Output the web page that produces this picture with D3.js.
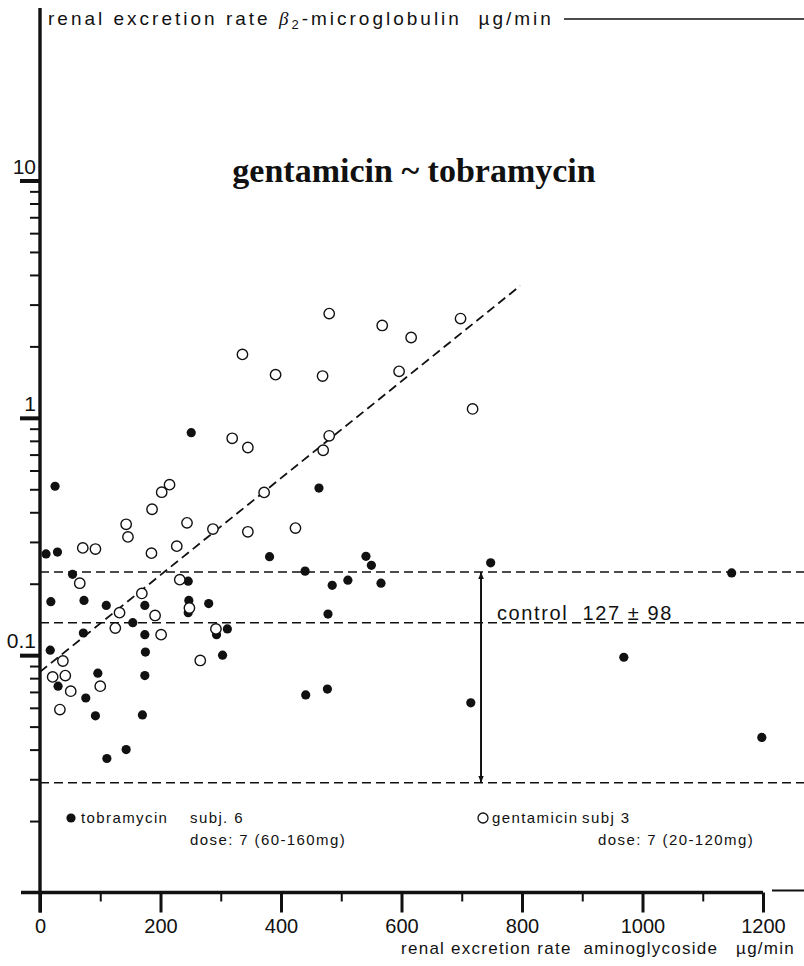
<!DOCTYPE html>
<html lang="en">
  <head>
    <meta charset="utf-8">
    <title>gentamicin ~ tobramycin</title>
    <script src="https://cdn.jsdelivr.net/npm/d3@7"></script>
    <style>
      body { margin: 0; background: #fff; }
      svg { font-family: "Liberation Sans", Arial, sans-serif; }
      svg text { fill: #111; white-space: pre; }
    </style>
  </head>
  <body>
    <script>
      var w = 804;
      var h = 966;

      // values: [aminoglycoside ug/min, b2-microglobulin ug/min]
      var tobramycin = [
        [25, 0.515], [10, 0.267], [29, 0.272], [54, 0.219], [18, 0.168], [73, 0.170],
        [110, 0.162], [174, 0.162], [154, 0.137], [72, 0.124], [174, 0.122], [17, 0.105],
        [175, 0.103], [96, 0.084], [174, 0.082], [30, 0.074], [76, 0.066], [92, 0.0555],
        [170, 0.056], [143, 0.040], [111, 0.0367], [246, 0.205], [247, 0.170], [246, 0.151],
        [280, 0.165], [293, 0.122], [311, 0.129], [303, 0.100], [381, 0.260], [440, 0.226],
        [463, 0.506], [478, 0.149], [441, 0.068], [477, 0.072], [541, 0.261], [550, 0.239],
        [748, 0.245], [1148, 0.222], [969, 0.098], [715, 0.063], [1198, 0.045], [251, 0.866],
        [485, 0.197], [511, 0.207], [566, 0.201]
      ];

      var gentamicin = [
        [215, 0.523], [202, 0.486], [186, 0.412], [143, 0.356], [146, 0.315], [244, 0.361],
        [287, 0.340], [372, 0.485], [345, 0.331], [424, 0.343], [71, 0.283], [92, 0.280],
        [185, 0.269], [227, 0.288], [66, 0.201], [232, 0.208], [169, 0.182], [248, 0.158],
        [132, 0.151], [191, 0.147], [125, 0.130], [201, 0.122], [292, 0.129], [266, 0.095],
        [38, 0.0945], [21, 0.081], [42, 0.082], [100, 0.074], [51, 0.0705], [33, 0.059],
        [480, 2.75], [568, 2.45], [698, 2.62], [616, 2.18], [336, 1.85], [391, 1.52],
        [469, 1.50], [596, 1.57], [718, 1.09], [319, 0.82], [345, 0.75], [480, 0.84],
        [470, 0.73]
      ];

      var fitLine = [[0, 0.085], [797, 3.6]];
      var controlLevels = [0.224, 0.137, 0.029];
      var controlArrowX = 732;

      var xMajor = [0, 200, 400, 600, 800, 1000, 1200];
      var xMinor = [100, 300, 500, 700, 900, 1100];
      var yLabelled = [10, 1, 0.1];
      var yLabels = ["10", "1", "0.1"];

      var xScale = d3.scaleLinear().domain([0, 1200]).range([40, 763]);
      var yScale = d3.scaleLog().domain([0.01, 10]).range([892.5, 180.5]);

      var svg = d3.select("body").append("svg")
                  .attr("width", w)
                  .attr("height", h);

      svg.append("rect").attr("width", w).attr("height", h).attr("fill", "#fff");

      // control band lines
      svg.selectAll("line.control")
         .data(controlLevels)
         .enter()
         .append("line")
         .attr("class", "control")
         .attr("x1", xScale(0))
         .attr("x2", w)
         .attr("y1", function (d) { return yScale(d); })
         .attr("y2", function (d) { return yScale(d); })
         .attr("stroke", "#111")
         .attr("stroke-width", 1.6)
         .attr("stroke-dasharray", "9,5");

      // regression line
      svg.append("path")
         .datum(fitLine)
         .attr("d", d3.line()
                      .x(function (d) { return xScale(d[0]); })
                      .y(function (d) { return yScale(d[1]); }))
         .attr("fill", "none")
         .attr("stroke", "#111")
         .attr("stroke-width", 1.8)
         .attr("stroke-dasharray", "9,5");

      // control arrow
      var defs = svg.append("defs");
      defs.append("marker")
          .attr("id", "arr")
          .attr("viewBox", "0 0 10 10")
          .attr("refX", 10).attr("refY", 5)
          .attr("markerWidth", 7).attr("markerHeight", 7)
          .attr("markerUnits", "userSpaceOnUse")
          .attr("orient", "auto-start-reverse")
          .append("path")
          .attr("d", "M0,1 L10,5 L0,9 Z")
          .attr("fill", "#111");

      svg.append("line")
         .attr("x1", xScale(controlArrowX)).attr("x2", xScale(controlArrowX))
         .attr("y1", yScale(controlLevels[0])).attr("y2", yScale(controlLevels[2]))
         .attr("stroke", "#111")
         .attr("stroke-width", 2)
         .attr("marker-start", "url(#arr)")
         .attr("marker-end", "url(#arr)");

      svg.append("text")
         .attr("x", 497)
         .attr("y", yScale(controlLevels[1]) - 3)
         .attr("font-size", 20)
         .attr("letter-spacing", 1.6)
         .text("control  127 \u00b1 98");

      // points
      svg.selectAll("circle.tobra")
         .data(tobramycin)
         .enter()
         .append("circle")
         .attr("class", "tobra")
         .attr("cx", function (d) { return xScale(d[0]); })
         .attr("cy", function (d) { return yScale(d[1]); })
         .attr("r", 4.6)
         .attr("fill", "#111");

      svg.selectAll("circle.genta")
         .data(gentamicin)
         .enter()
         .append("circle")
         .attr("class", "genta")
         .attr("cx", function (d) { return xScale(d[0]); })
         .attr("cy", function (d) { return yScale(d[1]); })
         .attr("r", 5.2)
         .attr("fill", "#fff")
         .attr("stroke", "#111")
         .attr("stroke-width", 1.4);

      // x axis
      var xAxis = d3.axisBottom(xScale)
                    .tickValues(xMajor)
                    .tickSize(20)
                    .tickSizeOuter(0)
                    .tickPadding(6)
                    .tickFormat(d3.format("d"));
      var gx = svg.append("g")
                  .attr("transform", "translate(0," + yScale(0.01) + ")")
                  .call(xAxis);
      gx.select(".domain").remove();
      gx.selectAll(".tick line").attr("stroke", "#111").attr("stroke-width", 3);
      gx.selectAll(".tick text")
        .attr("font-size", 20)
        .attr("font-family", "Liberation Sans, Arial, sans-serif")
        .attr("fill", "#111");

      var gxm = svg.append("g")
                   .attr("transform", "translate(0," + yScale(0.01) + ")")
                   .call(d3.axisBottom(xScale).tickValues(xMinor).tickSize(9).tickFormat(""));
      gxm.select(".domain").remove();
      gxm.selectAll(".tick line").attr("stroke", "#111").attr("stroke-width", 2);

      svg.append("line")
         .attr("x1", xScale(0) - 19).attr("x2", xScale(1200))
         .attr("y1", yScale(0.01)).attr("y2", yScale(0.01))
         .attr("stroke", "#111").attr("stroke-width", 3.4);
      svg.append("line")
         .attr("x1", xScale(1200) + 9).attr("x2", w)
         .attr("y1", yScale(0.01) - 2).attr("y2", yScale(0.01) - 2)
         .attr("stroke", "#111").attr("stroke-width", 2);

      svg.append("text")
         .attr("x", 795)
         .attr("y", 954)
         .attr("text-anchor", "end")
         .attr("font-size", 17)
         .attr("letter-spacing", 1.25)
         .text("renal excretion rate  aminoglycoside   \u00b5g/min");

      // y axis
      var minorY = yScale.ticks().filter(function (d) {
        var l = Math.log10(d);
        return Math.abs(l - Math.round(l)) > 1e-6;
      });
      var gym = svg.append("g")
                   .attr("transform", "translate(" + xScale(0) + ",0)")
                   .call(d3.axisLeft(yScale).tickValues(minorY).tickSize(10).tickFormat(""));
      gym.select(".domain").remove();
      gym.selectAll(".tick line").attr("stroke", "#111").attr("stroke-width", 2);

      var gy = svg.append("g")
                  .attr("transform", "translate(" + xScale(0) + ",0)")
                  .call(d3.axisLeft(yScale).tickValues(yLabelled).tickSize(20).tickFormat(""));
      gy.select(".domain").remove();
      gy.selectAll(".tick line").attr("stroke", "#111").attr("stroke-width", 4);

      svg.selectAll("text.ylab")
         .data(yLabelled)
         .enter()
         .append("text")
         .attr("class", "ylab")
         .attr("x", xScale(0) - 4)
         .attr("y", function (d) { return yScale(d) - 7; })
         .attr("text-anchor", "end")
         .attr("font-size", 21)
         .text(function (d, i) { return yLabels[i]; });

      svg.append("line")
         .attr("x1", xScale(0)).attr("x2", xScale(0))
         .attr("y1", 8).attr("y2", yScale(0.01) + 20)
         .attr("stroke", "#111").attr("stroke-width", 3.4);

      var topLabel = svg.append("text")
                        .attr("x", 48)
                        .attr("y", 25)
                        .attr("font-size", 19)
                        .attr("letter-spacing", 3.0);
      topLabel.append("tspan").text("renal excretion rate ");
      topLabel.append("tspan").attr("font-family", "Liberation Serif, serif").attr("font-style", "italic").text("\u03b2");
      topLabel.append("tspan").attr("font-size", 13).attr("dy", 4).text("2");
      topLabel.append("tspan").attr("dy", -4).text("-microglobulin  \u00b5g/min");

      svg.append("line")
         .attr("x1", 564).attr("x2", w)
         .attr("y1", 19).attr("y2", 19)
         .attr("stroke", "#111").attr("stroke-width", 1.6);

      // title
      svg.append("text")
         .attr("x", 414)
         .attr("y", 182)
         .attr("text-anchor", "middle")
         .attr("font-family", "Liberation Serif, serif")
         .attr("font-weight", "bold")
         .attr("font-size", 34)
         .text("gentamicin ~ tobramycin");

      // legend
      svg.append("circle").attr("cx", 71).attr("cy", 818).attr("r", 4.6).attr("fill", "#111");
      svg.append("text").attr("x", 81).attr("y", 823).attr("font-size", 15).attr("letter-spacing", 1.4).text("tobramycin");
      svg.append("text").attr("x", 190).attr("y", 823).attr("font-size", 15).attr("letter-spacing", 1.4).text("subj. 6");
      svg.append("text").attr("x", 190).attr("y", 845).attr("font-size", 15).attr("letter-spacing", 1.4).text("dose: 7 (60-160mg)");

      svg.append("circle").attr("cx", 483).attr("cy", 818).attr("r", 5)
         .attr("fill", "#fff").attr("stroke", "#111").attr("stroke-width", 1.3);
      svg.append("text").attr("x", 492).attr("y", 823).attr("font-size", 15).attr("letter-spacing", 1.4).text("gentamicin");
      svg.append("text").attr("x", 582).attr("y", 823).attr("font-size", 15).attr("letter-spacing", 1.4).text("subj 3");
      svg.append("text").attr("x", 598).attr("y", 845).attr("font-size", 15).attr("letter-spacing", 1.4).text("dose: 7 (20-120mg)");
    </script>
  </body>
</html>
